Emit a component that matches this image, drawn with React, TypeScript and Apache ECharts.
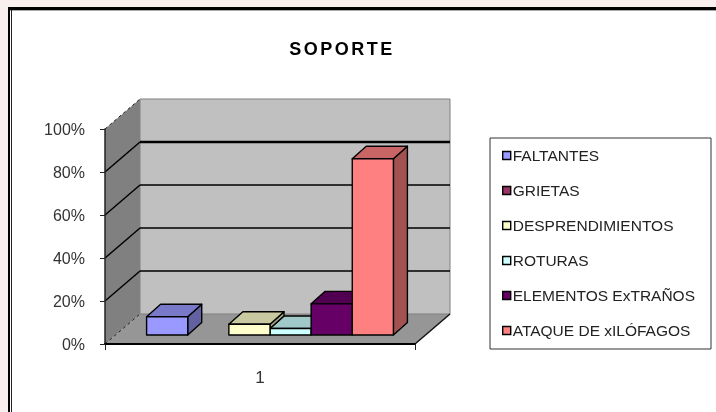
import React, { useEffect, useRef } from "react";
import * as echarts from "echarts";

const categories = ["1"];
const seriesNames = ["FALTANTES", "GRIETAS", "DESPRENDIMIENTOS", "ROTURAS", "ELEMENTOS ExTRAÑOS", "ATAQUE DE xILÓFAGOS"];
const seriesValues = [8.5, 0, 5, 3, 14.5, 82];
const seriesColors = ["#9999ff", "#993366", "#ffffcc", "#ccffff", "#660066", "#ff8080"];
const gridValues = [0, 20, 40, 60, 80, 100];
const heavyGridValue = 80;

const DEPTH_X = 35;
const DEPTH_Y = -30;
const BAR_OFFSET_X = 10;
const BAR_OFFSET_Y = -9;
const BAR_DEPTH_X = 14;
const BAR_DEPTH_Y = -12.5;
const BAR_SHARE = 0.1327;
const rank = (v: number) => [...seriesValues].sort((a, b) => a - b).indexOf(v);

const lineShape = (x1: number, y1: number, x2: number, y2: number) => ({ x1, y1, x2, y2 });

function renderWalls(params: any, api: any) {
  const left = params.coordSys.x;
  const right = left + params.coordSys.width;
  const bottomY = api.coord([0, 0])[1];
  const topY = api.coord([0, 100])[1];
  const children: any[] = [];
  children.push({
    type: "polygon",
    shape: { points: [[left, bottomY], [right, bottomY], [right + DEPTH_X, bottomY + DEPTH_Y], [left + DEPTH_X, bottomY + DEPTH_Y]] },
    style: { fill: "#969696", stroke: "none" },
  });
  children.push({
    type: "polygon",
    shape: { points: [[left, bottomY], [left, topY], [left + DEPTH_X, topY + DEPTH_Y], [left + DEPTH_X, bottomY + DEPTH_Y]] },
    style: { fill: "#808080", stroke: "none" },
  });
  children.push({
    type: "rect",
    shape: { x: left + DEPTH_X, y: topY + DEPTH_Y, width: right - left, height: bottomY - topY },
    style: { fill: "#c0c0c0", stroke: "#808080", lineWidth: 1 },
  });
  gridValues.forEach((v) => {
    const y = api.coord([0, v])[1];
    if (v > 0 && v < 100) {
      children.push({
        type: "line",
        shape: lineShape(left + DEPTH_X, y + DEPTH_Y, right + DEPTH_X, y + DEPTH_Y),
        style: { stroke: "#000", lineWidth: v === heavyGridValue ? 2.4 : 1.5 },
      });
    }
    children.push({
      type: "line",
      shape: lineShape(left, y, left + DEPTH_X, y + DEPTH_Y),
      style: v === 0 || v === 100
        ? { stroke: "#222", lineWidth: 1, lineDash: [3, 3] }
        : { stroke: "#000", lineWidth: 1.5 },
    });
  });
  children.push({
    type: "line",
    shape: lineShape(right, bottomY, right + DEPTH_X, bottomY + DEPTH_Y),
    style: { stroke: "#111", lineWidth: 1.5 },
  });
  return { type: "group", children };
}

function makeBarRenderer(index: number) {
  return (_params: any, api: any) => {
    const value = api.value(1);
    if (!value) return { type: "group", children: [] };
    const band = api.size([1, 0])[0];
    const w = band * BAR_SHARE;
    const center = api.coord([0, 0])[0];
    const x0 = center + (index - 3) * w + BAR_OFFSET_X;
    const x1 = x0 + w;
    const yB = api.coord([0, 0])[1] + BAR_OFFSET_Y;
    const yT = api.coord([0, value])[1] + BAR_OFFSET_Y;
    const neighbour = seriesValues[index + 1] ?? 0;
    const ySide = Math.max(api.coord([0, Math.min(neighbour, value)])[1] + BAR_OFFSET_Y, yT);
    const color = seriesColors[index];
    const stroke = { stroke: "#000", lineWidth: 1.4, lineJoin: "round" };
    return {
      type: "group",
      children: [
        {
          type: "polygon",
          shape: { points: [[x1, ySide], [x1, yT], [x1 + BAR_DEPTH_X, yT + BAR_DEPTH_Y], [x1 + BAR_DEPTH_X, ySide + BAR_DEPTH_Y]] },
          style: { fill: echarts.color.lerp(0.36, [color, "#000000"]), ...stroke },
        },
        {
          type: "polygon",
          shape: { points: [[x0, yT], [x1, yT], [x1 + BAR_DEPTH_X, yT + BAR_DEPTH_Y], [x0 + BAR_DEPTH_X, yT + BAR_DEPTH_Y]] },
          style: { fill: echarts.color.lerp(0.21, [color, "#000000"]), ...stroke },
        },
        {
          type: "rect",
          shape: { x: x0, y: yT, width: w, height: yB - yT },
          style: { fill: color, ...stroke },
        },
      ],
    };
  };
}

export default function App() {
  const ref = useRef<HTMLDivElement>(null);
  useEffect(() => {
    document.body.style.margin = "0";
    document.body.style.overflow = "hidden";
    const chart = echarts.init(ref.current!, null, { renderer: "svg" });
    chart.setOption({
      animation: false,
      backgroundColor: "#f8efee",
      textStyle: { fontFamily: "Liberation Sans" },
      title: {
        text: "SOPORTE",
        left: 337,
        top: 35,
        textAlign: "center",
        textStyle: { fontFamily: "Liberation Sans", fontSize: 18, fontWeight: "bold", color: "#000" },
      },
      graphic: [
        { type: "rect", z: -10, shape: { x: 8, y: 7, width: 708, height: 405 }, style: { fill: "#000" } },
        { type: "rect", z: -10, shape: { x: 10, y: 10, width: 706, height: 402 }, style: { fill: "#fff" } },
        { type: "line", z: -10, shape: { x1: 10, y1: 10.5, x2: 716, y2: 10.5 }, style: { stroke: "#aaa", lineWidth: 1 } },
        { type: "line", z: -10, shape: { x1: 11.5, y1: 10, x2: 11.5, y2: 412 }, style: { stroke: "#222", lineWidth: 1 } },
      ],
      grid: { left: 105, right: 301, top: 129, bottom: 68 },
      legend: {
        orient: "vertical",
        left: 490,
        top: 138,
        padding: [9.5, 16, 10.5, 12],
        itemGap: 19,
        itemWidth: 8,
        itemHeight: 8,
        selectedMode: false,
        borderColor: "#333",
        borderWidth: 1,
        backgroundColor: "#fff",
        icon: "rect",
        textStyle: { fontFamily: "Liberation Sans", fontSize: 15.5, color: "#222", padding: [0, 0, 0, -3] },
        data: seriesNames.map((name, i) => ({
          name,
          itemStyle: { color: seriesColors[i], borderColor: "#000", borderWidth: 1.4 },
        })),
      },
      xAxis: {
        type: "category",
        data: categories,
        z: 5,
        axisLine: { lineStyle: { color: "#000", width: 2 } },
        axisTick: { show: true, alignWithLabel: false, length: 6, lineStyle: { color: "#222", width: 1 } },
        axisLabel: { color: "#333", fontSize: 17, margin: 25 },
      },
      yAxis: {
        type: "value",
        min: 0,
        max: 100,
        interval: 20,
        z: 5,
        axisLine: { show: true, lineStyle: { color: "#222", width: 1.5 } },
        axisTick: { show: true, length: 5, lineStyle: { color: "#222", width: 1 } },
        axisLabel: { formatter: "{value}%", color: "#333", fontSize: 16, margin: 20 },
        splitLine: { show: false },
      },
      series: [
        {
          type: "custom",
          name: "walls",
          z: 1,
          silent: true,
          renderItem: renderWalls,
          data: [[0, 0]],
          encode: { x: 0, y: 1 },
        },
        ...seriesNames.map((name, i) => ({
          type: "custom",
          name,
          z: 2 + rank(seriesValues[i]),
          color: seriesColors[i],
          renderItem: makeBarRenderer(i),
          data: [[0, seriesValues[i]]],
          encode: { x: 0, y: 1 },
        })),
      ],
    });
    ref.current!.querySelectorAll("text").forEach((t) => {
      if (t.textContent === "SOPORTE") (t as SVGTextElement).style.letterSpacing = "2.5px";
    });
    return () => chart.dispose();
  }, []);
  return <div ref={ref} style={{ position: "absolute", left: 0, top: 0, width: 716, height: 412, filter: "blur(0.45px)" }} />;
}
